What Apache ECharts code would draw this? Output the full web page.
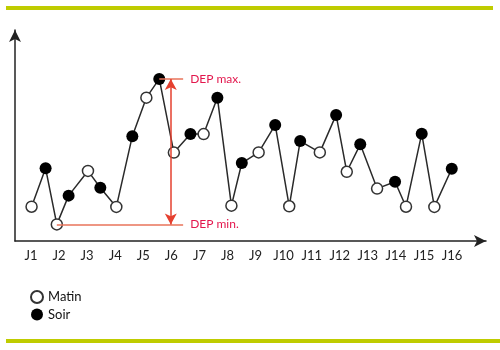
<!DOCTYPE html>
<html>
<head>
<meta charset="utf-8">
<script src="https://cdn.jsdelivr.net/npm/echarts@6/dist/echarts.min.js"></script>
<style>html,body{margin:0;padding:0;background:#fff}#c{width:500px;height:350px}</style>
</head>
<body>
<div id="c"></div>
<script>
// Day labels
var jours = ['J1','J2','J3','J4','J5','J6','J7','J8','J9','J10','J11','J12','J13','J14','J15','J16'];
var jourPos = [1,2,3,4,5,6,7,8,9,10,11,12,13,14,15,16];
// Morning measurements (time in days, value)
var matinT = [1.02,1.92,3.03,4.04,5.11,6.09,7.15,8.14,9.11,10.20,11.29,12.25,13.33,14.36,15.37];
var matinV = [16.1,7.8,32.9,16.0,67.3,41.5,50.2,16.6,41.6,16.3,41.6,32.5,24.6,16.1,16.0];
// Evening measurements
var soirT = [1.52,2.34,3.47,4.61,5.57,6.68,7.64,8.51,9.70,10.59,11.87,12.73,13.97,14.92,15.99];
var soirV = [34.1,21.3,25.0,49.2,76.1,50.2,67.3,36.6,54.5,46.9,59.2,45.4,27.8,50.4,33.9];

var matin = matinT.map(function(t,i){return [t, matinV[i]];});
var soir = soirT.map(function(t,i){return [t, soirV[i]];});
var all = [];
for (var i = 0; i < matin.length; i++) { all.push(matin[i]); if (soir[i]) all.push(soir[i]); }
var maxP = all.reduce(function(a,b){return b[1]>a[1]?b:a;});
var minP = all.reduce(function(a,b){return b[1]<a[1]?b:a;});
var labelEnd = 6.42, arrowX = 5.98;
var red = '#e3174d', lineRed = '#e8735a';

var chart = echarts.init(document.getElementById('c'));
chart.setOption({
  animation: false,
  textStyle: {fontFamily: 'Lato'},
  graphic: [
    {type:'rect', shape:{x:6,y:6,width:487,height:4}, style:{fill:'#bfcc00'}},
    {type:'rect', shape:{x:6,y:339,width:494,height:4}, style:{fill:'#bfcc00'}}
  ],
  grid: {left: 15, right: 14, top: 30, bottom: 109},
  xAxis: {
    type: 'value', min: 0.43, max: 17.21,
    splitLine: {show:false},
    axisTick: {show:false},
    axisLine: {show:true, onZero:false, symbol:['none','arrow'], symbolSize:[9,12], lineStyle:{color:'#222', width:1.5}},
    axisLabel: {customValues: jourPos, formatter: function(v){ return jours[Math.round(v)-1]; }, color:'#222', fontSize:13, margin:8, fontFamily:'Lato'}
  },
  yAxis: {
    type: 'value', min: 0, max: 99.06,
    splitLine: {show:false},
    axisTick: {show:false},
    axisLabel: {show:false},
    axisLine: {show:true, onZero:false, symbol:['none','arrow'], symbolSize:[9,12], lineStyle:{color:'#222', width:1.5}}
  },
  legend: {
    orient: 'vertical', left: 25, top: 285, itemWidth: 12, itemHeight: 12, itemGap: 4,
    icon: 'circle',
    textStyle: {color:'#111', fontSize:13, fontFamily:'Lato'},
    data: ['Matin','Soir']
  },
  series: [
    {
      type: 'line', data: all, showSymbol: false, silent: true,
      lineStyle: {color:'#2a2a2a', width:1.5}, z: 2,
      markLine: {
        silent: true, animation: false, symbol: 'none',
        data: [
          [{coord: maxP, lineStyle:{color:lineRed, width:1.5, type:'solid'},
            label:{show:true, position:'end', formatter:'DEP max.', color:red, fontSize:12, distance:7, fontFamily:'Lato'}},
           {coord: [labelEnd, maxP[1]]}],
          [{coord: minP, lineStyle:{color:lineRed, width:1.5, type:'solid'},
            label:{show:true, position:'end', formatter:'DEP min.', color:red, fontSize:12, distance:7, fontFamily:'Lato'}},
           {coord: [labelEnd, minP[1]]}],
          [{coord: [arrowX, maxP[1]], symbol:'arrow', symbolSize:[9,11], lineStyle:{color:'#e5402f', width:1.5, type:'solid'}, label:{show:false}},
           {coord: [arrowX, minP[1]], symbol:'arrow', symbolSize:[9,11]}]
        ]
      }
    },
    {
      name: 'Matin', type: 'scatter', data: matin, symbol: 'circle', symbolSize: 11, z: 3,
      itemStyle: {color:'#ffffff', borderColor:'#333', borderWidth:1.5, opacity:1}
    },
    {
      name: 'Soir', type: 'scatter', data: soir, symbol: 'circle', symbolSize: 12, z: 3,
      itemStyle: {color:'#000', opacity:1}
    }
  ]
});
</script>
</body>
</html>
